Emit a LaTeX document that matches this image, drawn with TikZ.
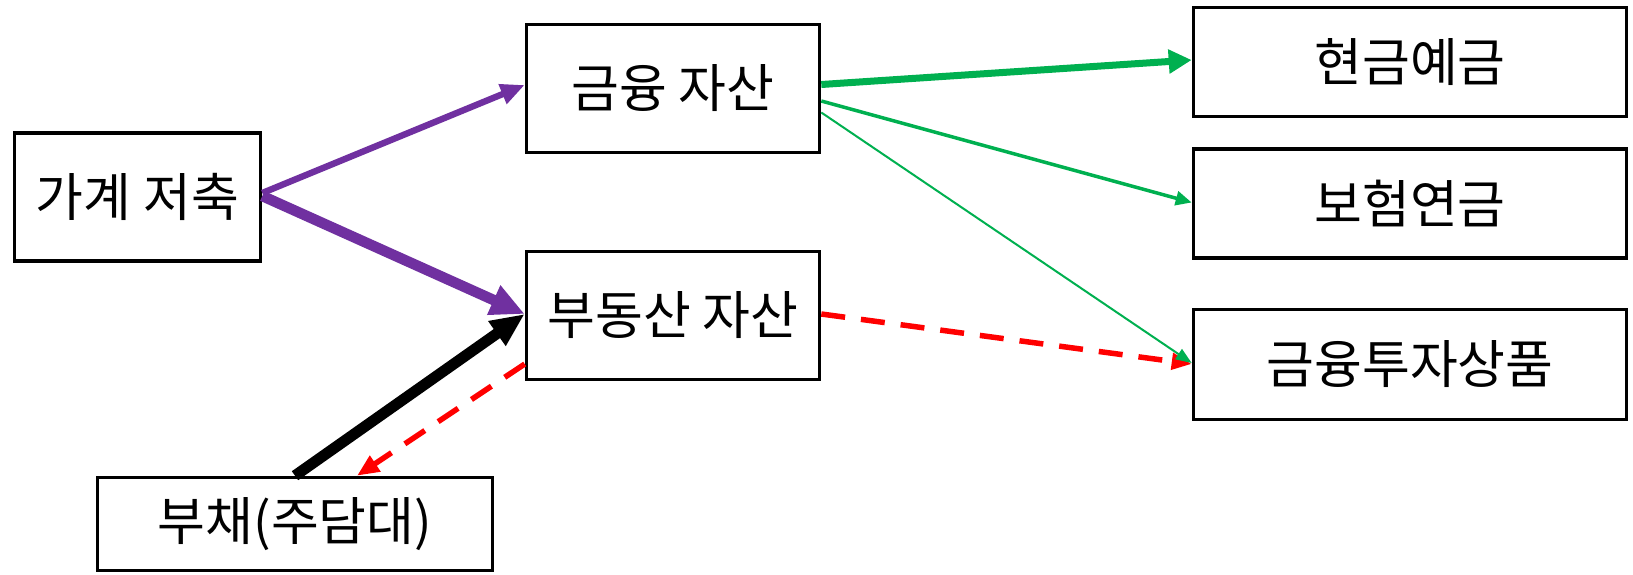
\documentclass[tikz,border=0pt]{standalone}
\usepackage{fontspec}
\newfontfamily\kr{Noto Sans CJK KR}
\usetikzlibrary{arrows.meta,calc}
\definecolor{ppl}{HTML}{7030A0}
\definecolor{grn}{HTML}{00B050}
\definecolor{rd}{HTML}{FF0000}
\tikzset{
  box/.style={draw=black,line width=1.8pt,fill=white,inner sep=0pt,align=center,
    font=\kr\fontsize{26}{30}\selectfont},
  reddash/.style={draw=rd,line width=2.75pt,dash pattern=on 12pt off 8pt},
}
\begin{document}
\begin{tikzpicture}[x=0.5pt,y=-0.5pt]
\useasboundingbox[fill=white] (0,0) rectangle (1633,574);
\node[box,minimum width=123pt,minimum height=64pt] (save) at (137.5,197) {가계 저축};
\node[box,minimum width=146.5pt,minimum height=64pt] (fin) at (673,88.5) {금융 자산};
\node[box,minimum width=146.5pt,minimum height=64pt] (re) at (673,315.5) {부동산 자산};
\node[box,minimum width=197.5pt,minimum height=46.5pt] (debt) at (295,524) {부채(주담대)};
\node[box,minimum width=216.5pt,minimum height=54.5pt] (cash) at (1410,62) {현금예금};
\node[box,minimum width=216.5pt,minimum height=54.5pt] (ins) at (1410,203.5) {보험연금};
\node[box,minimum width=216.5pt,minimum height=55pt] (inv) at (1410,364.5) {금융투자상품};
% purple
\draw[ppl,line width=3.2pt,-{Triangle[length=12pt,width=10pt]}]
  ($(save.east)+(0,-4)$) -- ($(fin.west)+(0,-3.5)$);
\draw[ppl,line width=5.3pt,-{Triangle[length=17pt,width=15pt]}]
  ($(save.east)+(0,-1)$) -- ($(re.west)+(0,-1.5)$);
% black
\draw[black,line width=5.5pt,-{Triangle[length=17pt,width=14pt]}]
  (debt.north) -- ($(re.west)+(0,-1.5)$);
% red dashed
\draw[reddash,-{Triangle[length=11pt,width=9pt]}]
  ($(re.west)+(0,48.5)$) -- ($(debt.north)+(62,0)$);
\draw[reddash,-{Triangle[length=10pt,width=8pt]}]
  ($(re.east)+(0,-1.5)$) -- ($(inv.west)+(0,-0.5)$);
% green
\draw[grn,line width=3.5pt,-{Triangle[length=11.5pt,width=11.5pt]}]
  ($(fin.east)+(0,-4)$) -- ($(cash.west)+(0,-2)$);
\draw[grn,line width=1.75pt,-{Triangle[length=8pt,width=7pt]}]
  ($(fin.east)+(0,12.5)$) -- ($(ins.west)+(0,-1)$);
\draw[grn,line width=1pt,-{Triangle[length=8pt,width=6pt]}]
  ($(fin.east)+(0,24)$) -- ($(inv.west)+(0,-1.5)$);
\end{tikzpicture}
\end{document}
